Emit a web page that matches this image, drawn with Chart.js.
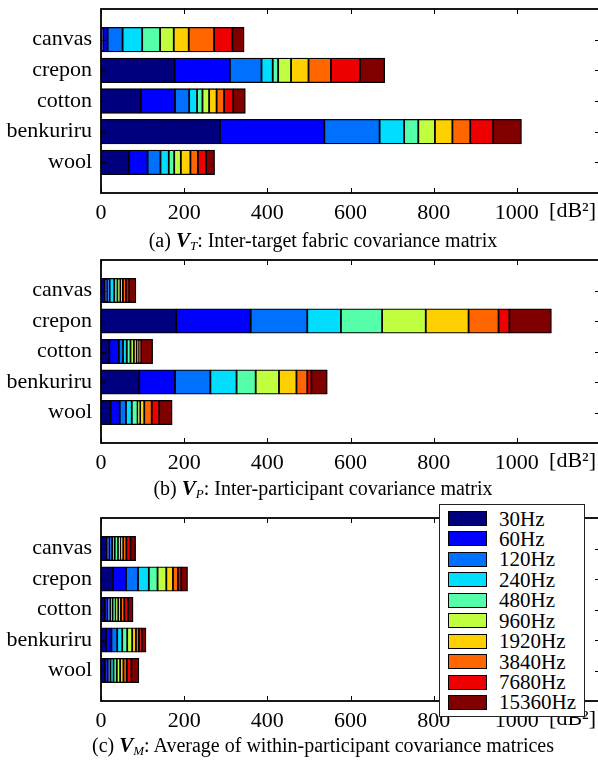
<!DOCTYPE html>
<html>
<head>
<meta charset="utf-8">
<script src="https://cdn.jsdelivr.net/npm/chart.js@4.4.1/dist/chart.umd.min.js"></script>
<style>
  html, body { margin: 0; padding: 0; background: #fff; width: 598px; height: 765px; overflow: hidden; }
  #page { position: relative; width: 598px; height: 765px; overflow: hidden;
          font-family: 'Liberation Serif', 'Times New Roman', serif; color: #000; }
  .panel { position: absolute; left: 0; }
  .panel canvas { display: block; }
  .caption { position: absolute; left: 0; width: 646px; text-align: center;
             font-size: 20px; line-height: 24px; white-space: nowrap; }
  .caption b { font-style: italic; font-size: 21px; }
  .caption sub { font-style: italic; font-size: 13px; vertical-align: -3px; line-height: 0; }
  #legend { position: absolute; left: 439px; top: 504px; width: 146px; height: 213px;
            box-sizing: border-box; border: 1.5px solid #222; background: #fff; }
  #legend .sw { position: absolute; left: 8px; width: 39px; height: 15px;
                box-sizing: border-box; border: 1.2px solid #000; }
  #legend .lb { position: absolute; left: 59px; font-size: 21px; line-height: 20px; white-space: nowrap; }
</style>
</head>
<body>
<div id="page">
  <div class="panel" style="top:0px"><canvas id="chartT" width="600" height="232"></canvas></div>
  <div class="caption" style="top:228px">(a) <b>V</b><sub>T</sub>: Inter-target fabric covariance matrix</div>
  <div class="panel" style="top:250px"><canvas id="chartP" width="600" height="232"></canvas></div>
  <div class="caption" style="top:476px">(b) <b>V</b><sub>P</sub>: Inter-participant covariance matrix</div>
  <div class="panel" style="top:508px"><canvas id="chartM" width="600" height="232"></canvas></div>
  <div class="caption" style="top:733px">(c) <b>V</b><sub>M</sub>: Average of within-participant covariance matrices</div>
  <div id="legend"></div>
</div>
<script>
// Fabrics (rows) and frequency bands (stacked segments)
const fabrics = ['canvas', 'crepon', 'cotton', 'benkuriru', 'wool'];
const bands = ['30Hz', '60Hz', '120Hz', '240Hz', '480Hz', '960Hz', '1920Hz', '3840Hz', '7680Hz', '15360Hz'];

// Variance per band [dB^2], one row per fabric in the order above
const interTarget = [
  [5.5, 10.5, 36, 47, 43, 33, 36, 61, 44, 28],
  [177, 133, 76, 27, 13, 31, 42, 54, 70, 59],
  [96, 82, 34, 19, 13, 16, 18, 18, 22, 29],
  [286, 251, 133, 59, 34, 40, 42, 43, 55, 68],
  [67, 45, 31, 20, 13, 16, 23, 18, 20, 20]
];
const interParticipant = [
  [9.6, 4.8, 6.4, 11, 8, 6.4, 6.4, 7.2, 8, 16],
  [181, 179, 136, 81, 99, 105, 103, 72, 26, 101],
  [20, 23, 10, 9, 9, 8, 7, 5, 5, 28],
  [92, 86, 85, 63, 46, 56, 42, 26, 10, 38],
  [23, 22, 15, 14, 14, 6, 10, 18, 18, 31]
];
const withinParticipant = [
  [14, 6, 7, 6, 8, 6, 6, 8, 10, 12],
  [29, 31, 29, 26, 21, 21, 16, 12, 8, 15],
  [9, 7, 6, 6, 7, 6, 7, 8, 9, 12],
  [12, 13, 14, 12, 12, 12, 9, 7, 7, 10],
  [9, 7, 7, 7, 8, 8, 8, 8, 11, 18]
];

// Value axis
const xMin = 0, xMax = 1200, xStep = 200;
const xUnitLabel = '[dB\u00B2]';

// Jet-style band colours
const bandColors = ['#00007f', '#0000ff', '#0070ff', '#00ddff', '#55ffaa',
                    '#c0ff40', '#ffd000', '#ff6600', '#ee0000', '#800000'];

const FONT = "'Liberation Serif', 'Times New Roman', serif";
const TICK_FONT = { family: FONT, size: 22 };
const TICK_LEN = 5;
const LABEL_PAD = 7;

Chart.defaults.font.family = FONT;
Chart.defaults.color = '#000';

// Box around the plot with inward tick marks on all four sides, plus the unit label
const framePlugin = {
  id: 'frame',
  afterDraw(chart) {
    const { ctx, chartArea: a, scales: { x, y } } = chart;
    ctx.save();
    ctx.strokeStyle = '#000';
    ctx.lineWidth = 1;
    ctx.beginPath();
    x.ticks.forEach(t => {
      const px = Math.round(x.getPixelForValue(t.value)) + 0.5;
      ctx.moveTo(px, a.top); ctx.lineTo(px, a.top + TICK_LEN);
      ctx.moveTo(px, a.bottom); ctx.lineTo(px, a.bottom - TICK_LEN);
    });
    fabrics.forEach((f, i) => {
      const py = Math.round(y.getPixelForValue(i + 1)) + 0.5;
      ctx.moveTo(a.left, py); ctx.lineTo(a.left + TICK_LEN, py);
      ctx.moveTo(a.right, py); ctx.lineTo(a.right - TICK_LEN, py);
    });
    ctx.stroke();
    ctx.lineWidth = 1.8;
    ctx.strokeRect(a.left, a.top, a.right - a.left, a.bottom - a.top);
    ctx.fillStyle = '#000';
    ctx.font = `${TICK_FONT.size}px ${FONT}`;
    ctx.textAlign = 'right';
    ctx.textBaseline = 'top';
    ctx.fillText(xUnitLabel, x.getPixelForValue(xMax) - 4, a.bottom + LABEL_PAD);
    ctx.restore();
  }
};

function makePanel(canvasId, rows, topPad, plotHeight) {
  const canvas = document.getElementById(canvasId);
  const labels = ['', ...fabrics, ''];
  const datasets = bands.map((band, j) => ({
    label: band,
    data: [null, ...rows.map(r => r[j]), null],
    backgroundColor: bandColors[j],
    borderColor: '#000',
    borderWidth: 1.3,
    borderSkipped: false,
    inflateAmount: 0.4,
    categoryPercentage: 1,
    barPercentage: 0.8
  }));
  return new Chart(canvas, {
    type: 'bar',
    data: { labels, datasets },
    options: {
      indexAxis: 'y',
      responsive: false,
      animation: false,
      devicePixelRatio: 1,
      layout: { autoPadding: false, padding: { top: topPad, left: 0, right: 0, bottom: 0 } },
      plugins: { legend: { display: false }, tooltip: { enabled: false } },
      scales: {
        x: {
          type: 'linear', stacked: true, min: xMin, max: xMax,
          grid: { display: false, drawTicks: false },
          border: { display: false },
          ticks: {
            stepSize: xStep, autoSkip: false, maxRotation: 0, padding: LABEL_PAD,
            font: TICK_FONT, color: '#000',
            callback: v => (v >= xMax ? '' : String(v))
          },
          afterFit: s => {
            s.height = canvas.height - topPad - plotHeight;
            s.paddingLeft = 0; s.paddingRight = 0;
          }
        },
        y: {
          type: 'category', stacked: true, offset: false,
          grid: { display: false, drawTicks: false },
          border: { display: false },
          ticks: { autoSkip: false, padding: 9, font: TICK_FONT, color: '#000' },
          afterFit: s => {
            s.width = 101;
            s.paddingTop = 0; s.paddingBottom = 0;
          }
        }
      }
    },
    plugins: [framePlugin]
  });
}

makePanel('chartT', interTarget, 9, 184);
makePanel('chartP', interParticipant, 10, 183);
makePanel('chartM', withinParticipant, 10, 183);

// Legend box built from the band names and colours
const legend = document.getElementById('legend');
bands.forEach((band, i) => {
  const top = 6 + i * 20.44;
  const sw = document.createElement('div');
  sw.className = 'sw';
  sw.style.top = top + 'px';
  sw.style.background = bandColors[i];
  const lb = document.createElement('div');
  lb.className = 'lb';
  lb.style.top = (top - 2.5) + 'px';
  lb.textContent = band;
  legend.appendChild(sw);
  legend.appendChild(lb);
});
</script>
</body>
</html>
